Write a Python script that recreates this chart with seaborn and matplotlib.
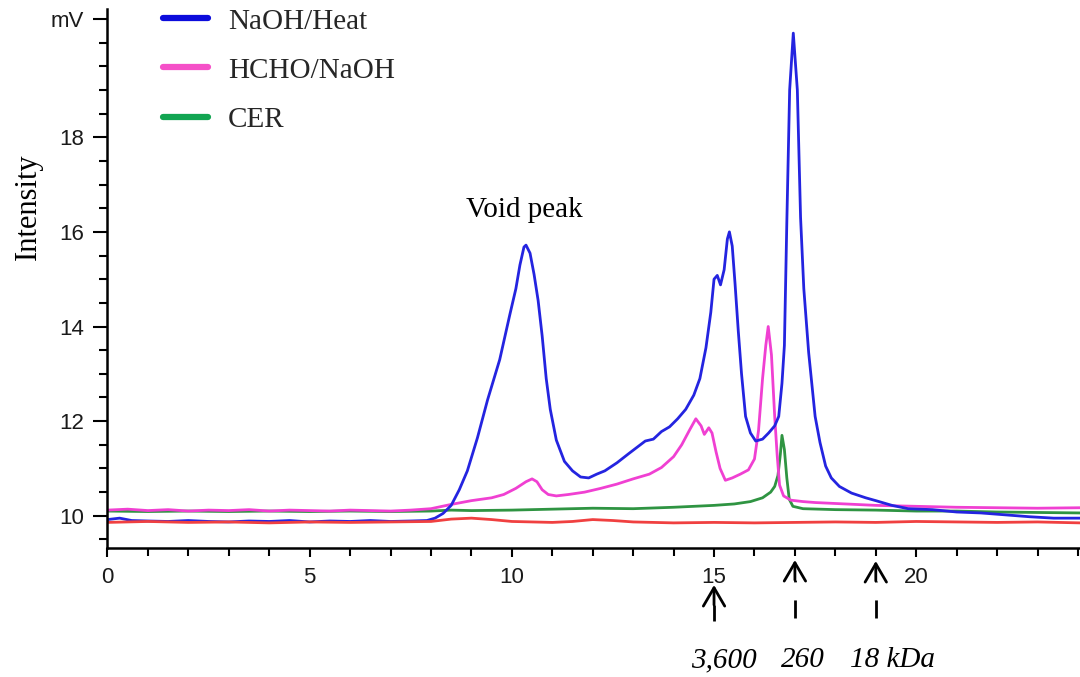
import matplotlib
matplotlib.use("Agg")
import matplotlib.pyplot as plt
import matplotlib.transforms as mtransforms
from matplotlib.lines import Line2D
from matplotlib.ticker import FixedLocator, MultipleLocator
import pandas as pd
import seaborn as sns

# Elution time (min) and detector signal (mV) for each trace
naoh_heat_t = [0.0, 0.3, 0.6, 1.0, 1.5, 2.0, 2.5, 3.0, 3.5, 4.0, 4.5, 5.0, 5.5, 6.0, 6.5,
               7.0, 7.5, 7.9, 8.1, 8.3, 8.5, 8.7, 8.9, 9.15, 9.4, 9.7, 9.95, 10.1, 10.2,
               10.3, 10.35, 10.45, 10.55, 10.65, 10.75, 10.85, 10.95, 11.1, 11.3, 11.5,
               11.7, 11.9, 12.1, 12.3, 12.6, 12.9, 13.1, 13.3, 13.5, 13.7, 13.9, 14.1,
               14.3, 14.5, 14.65, 14.8, 14.92, 15.0, 15.08, 15.16, 15.25, 15.33, 15.38,
               15.45, 15.52, 15.6, 15.68, 15.78, 15.9, 16.03, 16.2, 16.35, 16.5, 16.6,
               16.68, 16.74, 16.8, 16.87, 16.96, 17.06, 17.14, 17.22, 17.34, 17.5,
               17.62, 17.76, 17.9, 18.1, 18.4, 18.75, 19.0, 19.4, 19.8, 20.4, 21.0, 21.6,
               22.2, 22.8, 23.4, 24.05]
naoh_heat_mv = [9.92, 9.95, 9.90, 9.89, 9.88, 9.90, 9.88, 9.87, 9.89, 9.88, 9.90, 9.87, 9.89,
                9.88, 9.90, 9.88, 9.89, 9.90, 9.95, 10.05, 10.22, 10.55, 10.95, 11.65, 12.45,
                13.3, 14.25, 14.8, 15.3, 15.68, 15.72, 15.55, 15.1, 14.55, 13.8, 12.9, 12.25,
                11.6, 11.15, 10.95, 10.82, 10.80, 10.88, 10.95, 11.12, 11.32, 11.45, 11.58,
                11.62, 11.78, 11.88, 12.05, 12.25, 12.55, 12.9, 13.55, 14.3, 15.0, 15.08,
                14.88, 15.2, 15.85, 16.0, 15.7, 14.9, 13.9, 13.0, 12.1, 11.75, 11.58, 11.62,
                11.75, 11.9, 12.1, 12.8, 13.6, 16.2, 19.0, 20.2, 19.0, 16.3, 14.8,
                13.45, 12.1, 11.55, 11.05, 10.8, 10.62, 10.48, 10.38, 10.32, 10.22, 10.15,
                10.13, 10.08, 10.06, 10.02, 9.98, 9.95, 9.95]

hcho_naoh_t = [0.0, 0.5, 1.0, 1.5, 2.0, 2.5, 3.0, 3.5, 4.0, 4.5, 5.0, 5.5, 6.0, 6.5, 7.0,
               7.5, 8.0, 8.5, 9.0, 9.5, 9.8, 10.1, 10.35, 10.5, 10.62, 10.75, 10.9, 11.1,
               11.4, 11.8, 12.2, 12.6, 13.0, 13.4, 13.7, 14.0, 14.2, 14.4, 14.55, 14.68,
               14.76, 14.87, 14.95, 15.05, 15.15, 15.28, 15.45, 15.65, 15.85, 16.0, 16.1,
               16.2, 16.28, 16.34, 16.42, 16.5, 16.56, 16.62, 16.72, 16.9, 17.2, 17.5,
               18.0, 18.5, 19.0, 20.0, 21.0, 22.0, 23.0, 24.05]
hcho_naoh_mv = [10.12, 10.14, 10.11, 10.13, 10.10, 10.12, 10.11, 10.13, 10.10, 10.12, 10.11,
                10.10, 10.12, 10.11, 10.10, 10.12, 10.15, 10.24, 10.32, 10.38, 10.45, 10.58,
                10.72, 10.78, 10.72, 10.55, 10.45, 10.42, 10.45, 10.50, 10.58, 10.67, 10.78,
                10.88, 11.02, 11.25, 11.5, 11.82, 12.05, 11.9, 11.72, 11.86, 11.75, 11.35,
                11.0, 10.75, 10.8, 10.88, 10.97, 11.2, 11.8, 12.9, 13.6, 14.0, 13.4, 12.1,
                11.3, 10.65, 10.42, 10.33, 10.30, 10.28, 10.26, 10.24, 10.22, 10.20, 10.18,
                10.17, 10.16, 10.17]

cer_t = [0.0, 1.0, 2.0, 3.0, 4.0, 5.0, 6.0, 7.0, 8.0, 8.5, 9.0, 10.0, 11.0, 12.0, 13.0,
         14.0, 14.5, 15.0, 15.5, 15.9, 16.2, 16.4, 16.5, 16.58, 16.64, 16.68, 16.74, 16.8,
         16.86, 16.95, 17.2, 18.0, 19.0, 20.0, 21.0, 22.0, 23.0, 24.05]
cer_mv = [10.10, 10.09, 10.10, 10.09, 10.10, 10.09, 10.10, 10.09, 10.10, 10.12, 10.11, 10.12,
          10.14, 10.16, 10.15, 10.18, 10.20, 10.22, 10.25, 10.30, 10.38, 10.50, 10.62, 10.85,
          11.3, 11.7, 11.4, 10.8, 10.35, 10.20, 10.15, 10.13, 10.12, 10.10, 10.10, 10.08,
          10.07, 10.06]

blank_t = [0.0, 1.0, 2.0, 3.0, 4.0, 5.0, 6.0, 7.0, 8.0, 8.5, 9.0, 9.5, 10.0, 10.5, 11.0,
           11.5, 12.0, 12.5, 13.0, 13.5, 14.0, 15.0, 16.0, 17.0, 18.0, 19.0, 20.0, 21.0,
           22.0, 23.0, 24.05]
blank_mv = [9.86, 9.88, 9.86, 9.87, 9.85, 9.87, 9.86, 9.87, 9.88, 9.93, 9.95, 9.92, 9.88,
            9.87, 9.86, 9.88, 9.92, 9.90, 9.87, 9.86, 9.85, 9.86, 9.85, 9.86, 9.87, 9.86,
            9.88, 9.87, 9.86, 9.87, 9.85]

# Molecular-weight markers on the time axis
marker_times = [15, 17, 19]
marker_labels = ["3,600", "260", "18 kDa"]
marker_label_x = [15.24, 17.19, 19.42]

legend_names = ["NaOH/Heat", "HCHO/NaOH", "CER"]
line_colors = {"NaOH/Heat": "#2424e0", "HCHO/NaOH": "#f040d2",
               "CER": "#2f9442", "Blank": "#f04040"}
legend_colors = ["#0c0cdc", "#f550c8", "#12a552"]

frames = [
    pd.DataFrame({"time": naoh_heat_t, "signal": naoh_heat_mv, "sample": "NaOH/Heat"}),
    pd.DataFrame({"time": hcho_naoh_t, "signal": hcho_naoh_mv, "sample": "HCHO/NaOH"}),
    pd.DataFrame({"time": cer_t, "signal": cer_mv, "sample": "CER"}),
    pd.DataFrame({"time": blank_t, "signal": blank_mv, "sample": "Blank"}),
]
df = pd.concat(frames, ignore_index=True)

sns.set_style("ticks")
plt.rcParams["font.family"] = ["Liberation Sans", "DejaVu Sans"]

SERIF = ["Liberation Serif", "DejaVu Serif"]

fig = plt.figure(figsize=(10.8, 6.77), dpi=100)
ax = fig.add_axes([0.0995, 0.1906, 0.9005, 0.7968])

sns.lineplot(data=df, x="time", y="signal", hue="sample",
             hue_order=["CER", "HCHO/NaOH", "NaOH/Heat", "Blank"],
             palette=line_colors, estimator=None, legend=False,
             linewidth=2.0, ax=ax)

ax.set_xlim(0, 24.05)
ax.set_ylim(9.32, 20.72)

ax.xaxis.set_major_locator(FixedLocator([0, 5, 10, 15, 20]))
ax.xaxis.set_minor_locator(MultipleLocator(1))
ax.yaxis.set_major_locator(FixedLocator([10, 12, 14, 16, 18, 20.5]))
ax.set_yticklabels(["10", "12", "14", "16", "18", "mV"])
ax.yaxis.set_minor_locator(MultipleLocator(0.5))

ax.tick_params(axis="both", which="both", direction="out", color="black",
               labelsize=16, labelcolor="#1a1a1a", width=1.5, pad=7)
ax.tick_params(axis="y", which="major", length=10)
ax.tick_params(axis="y", which="minor", length=5.5)
ax.tick_params(axis="x", which="major", length=6.5)
ax.tick_params(axis="x", which="minor", length=5.5)

for side in ("top", "right"):
    ax.spines[side].set_visible(False)
for side in ("left", "bottom"):
    ax.spines[side].set_linewidth(1.8)
    ax.spines[side].set_color("black")

ax.set_xlabel("")
ax.set_ylabel("Intensity", family=SERIF, fontsize=22, color="black")
ax.yaxis.set_label_coords(-0.066, 0.632)

ax.text(10.32, 16.47, "Void peak", family=SERIF, fontsize=21,
        ha="center", va="center", color="black")

# Legend for the three labelled traces
handles = [Line2D([0], [0], color=c, lw=4.5) for c in legend_colors]
fig.legend(handles, legend_names, loc="upper left", bbox_to_anchor=(0.151, 0.988),
           frameon=False, handlelength=1.55, handletextpad=0.68, labelspacing=0.78,
           borderpad=0, borderaxespad=0, prop={"family": SERIF, "size": 21})

# Dashed arrows marking molecular-weight standards below the time axis
trans = mtransforms.blended_transform_factory(ax.transData, fig.transFigure)
tip_px = [585, 560, 561]
bottom_px = [621, 618, 618]
for t, tip, bot in zip(marker_times, tip_px, bottom_px):
    y_tip = 1 - tip / 677
    y_bot = 1 - bot / 677
    y_solid = 1 - (tip + 20) / 677
    # dashes run upward from the bottom end, then a solid stem carries the head
    ax.plot([t, t], [y_bot, y_solid], transform=trans, color="black", lw=2.0,
            dashes=(6.5, 6.5), clip_on=False)
    ax.annotate("", xy=(t, y_tip), xycoords=trans, xytext=(t, y_solid),
                textcoords=trans,
                arrowprops=dict(arrowstyle="->,head_length=1.2,head_width=0.7",
                                color="black", lw=2.0, mutation_scale=11,
                                shrinkA=0, shrinkB=0),
                annotation_clip=False)

for lx, lab in zip(marker_label_x, marker_labels):
    ax.text(lx, 1 - 667 / 677, lab, transform=trans, family=SERIF, style="italic",
            fontsize=21, ha="center", va="baseline", color="black", clip_on=False)

fig.savefig("out.png", dpi=100)
